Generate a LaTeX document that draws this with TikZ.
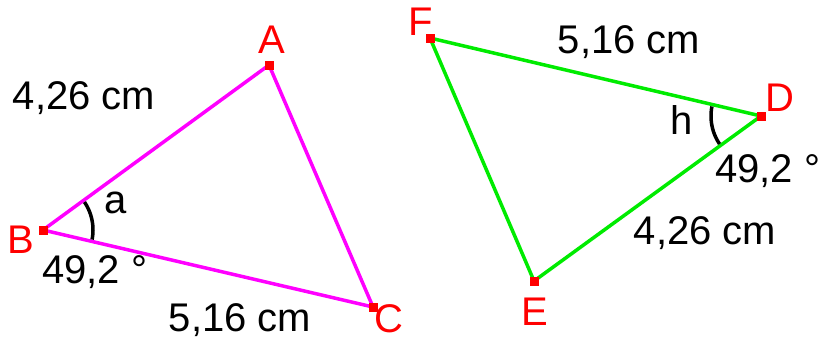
\documentclass[tikz,border=0pt]{standalone}
\usepackage{fontspec}
\setmainfont{Liberation Sans}
\definecolor{mag}{RGB}{255,0,255}
\definecolor{grn}{RGB}{0,235,0}
\definecolor{vred}{RGB}{255,0,0}
\begin{document}
\begin{tikzpicture}[x=1pt,y=-1pt,
  lbl/.style={font=\fontsize{40}{48}\selectfont, inner sep=0pt},
  vlbl/.style={lbl, text=vred},
  vtx/.style={fill=vred, minimum size=9pt, inner sep=0pt, draw=none},
  magline/.style={draw=mag, line width=3.5pt},
  grnline/.style={draw=grn, line width=3.5pt},
  anglearc/.style={draw=black, line width=3.5pt}]
\useasboundingbox (0,0) rectangle (826,341);
% triangle ABC
\coordinate (A) at (269,65);
\coordinate (B) at (43,230);
\coordinate (C) at (373,307);
\draw[magline] (A) -- (B) -- (C) -- cycle;
\draw[anglearc] plot[domain=-34:11, samples=30] ({43+50*cos(\x)},{230+50*sin(\x)});
% triangle FDE
\coordinate (F) at (430,38);
\coordinate (D) at (761,116);
\coordinate (E) at (534,281);
\draw[grnline] (F) -- (D) -- (E) -- cycle;
\draw[anglearc] plot[domain=146:191, samples=30] ({761+50*cos(\x)},{116+50*sin(\x)});
% vertices
\foreach \p in {A,B,C,D,E,F} \node[vtx] (v\p) at (\p) {};
% vertex labels
\node[vlbl] (lA) at (272,40) {A};
\node[vlbl] (lB) at (21,240) {B};
\node[vlbl] (lC) at (389,319) {C};
\node[vlbl] (lF) at (421,22) {F};
\node[vlbl] (lD) at (780,98) {D};
\node[vlbl] (lE) at (535,312) {E};
% measure labels
\node[lbl] (t1) at (84,98) {4,26 cm};
\node[lbl] (t2) at (116,203) {a};
\node[lbl, anchor=west] (t3) at (42,272) {49,2 °};
\node[lbl] (t4) at (240,320) {5,16 cm};
\node[lbl] (t5) at (629,42) {5,16 cm};
\node[lbl] (t6) at (682,120) {h};
\node[lbl, anchor=west] (t7) at (715,171) {49,2 °};
\node[lbl] (t8) at (705,233) {4,26 cm};
\end{tikzpicture}
\end{document}
